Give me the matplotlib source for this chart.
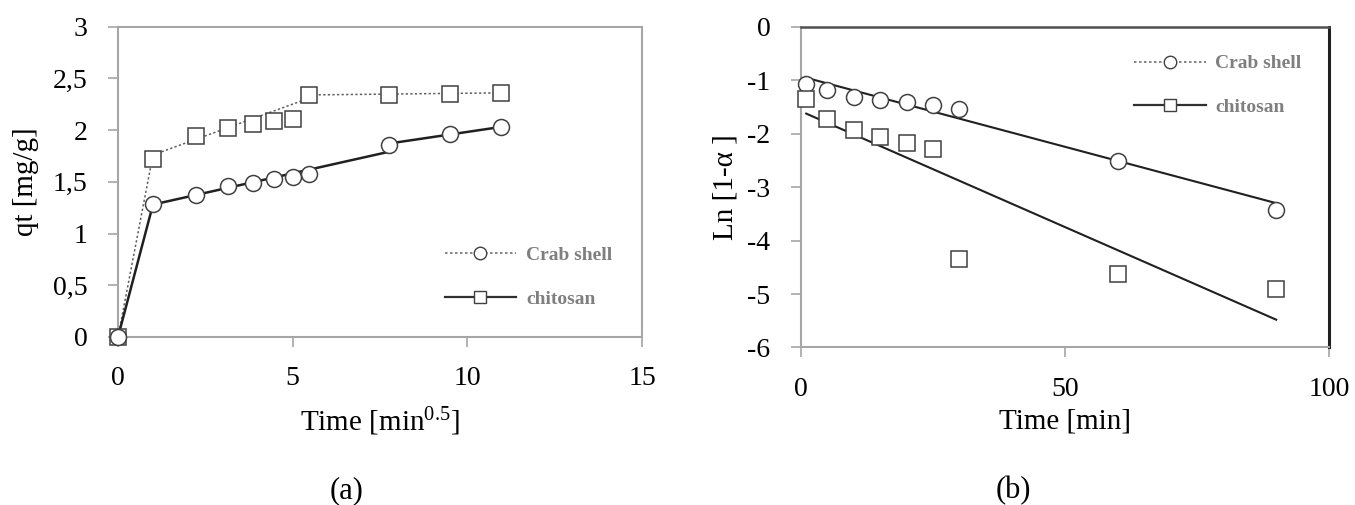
import matplotlib
matplotlib.use("Agg")
import matplotlib.pyplot as plt
from matplotlib.lines import Line2D

plt.rcParams['font.family'] = ['Liberation Serif', 'DejaVu Serif']
plt.rcParams['mathtext.fontset'] = 'custom'
plt.rcParams['mathtext.rm'] = 'Liberation Serif'
plt.rcParams['mathtext.it'] = 'Liberation Serif:italic'
plt.rcParams['axes.unicode_minus'] = False

# (a) intraparticle diffusion, x = sqrt(t)
sqrt_t = [0, 1, 2.24, 3.16, 3.87, 4.47, 5, 5.48, 7.75, 9.49, 10.95]
qt_squares = [0, 1.72, 1.94, 2.02, 2.06, 2.09, 2.11, 2.34, 2.34, 2.35, 2.36]
qt_circles = [0, 1.29, 1.37, 1.46, 1.49, 1.525, 1.545, 1.58, 1.86, 1.96, 2.03]
# fitted segments (x, y)
dot_seg_x = [[0, 1], [1, 5.48], [5.48, 10.95]]
dot_seg_y = [[0, 1.76], [1.76, 2.31], [2.34, 2.36]]
sol_seg_x = [[0, 1], [1, 7.75], [7.75, 10.95]]
sol_seg_y = [[0, 1.28], [1.28, 1.79], [1.87, 2.03]]
a_yticks = [0, 0.5, 1, 1.5, 2, 2.5, 3]
a_yticklabels = ['0', '0,5', '1', '1,5', '2', '2,5', '3']
a_xticks = [0, 5, 10, 15]

# (b) pseudo first order
t_min = [1, 5, 10, 15, 20, 25, 30, 60, 90]
ln_circles = [-1.07, -1.18, -1.31, -1.38, -1.41, -1.46, -1.53, -2.52, -3.42]
ln_squares = [-1.36, -1.72, -1.94, -2.06, -2.18, -2.28, -4.35, -4.63, -4.91]
fit_x = [1, 90]
fit_circles = [-0.955, -3.30]
fit_squares = [-1.625, -5.48]
b_yticks = [0, -1, -2, -3, -4, -5, -6]
b_xticks = [0, 50, 100]

SPINE = '#a6a6a6'
MK = '#404040'
LEG = '#7f7f7f'

fig = plt.figure(figsize=(13.55, 5.05), dpi=100)
ax1 = fig.add_axes([0.0871, 0.3327, 0.3867, 0.6145])
ax2 = fig.add_axes([0.5911, 0.3119, 0.3897, 0.6352])

mk = dict(markersize=11.5, markerfacecolor='white', markeredgecolor=MK,
          markeredgewidth=1.1, linestyle='none', clip_on=False)

# panel a
for xs, ys in zip(dot_seg_x, dot_seg_y):
    ax1.plot(xs, ys, linestyle=(0, (1.5, 1.5)), color='#606060', lw=1.1)
for xs, ys in zip(sol_seg_x, sol_seg_y):
    ax1.plot(xs, ys, '-', color='#202020', lw=1.8)
ax1.plot(sqrt_t, qt_squares, marker='s', zorder=3, **mk)
ax1.plot(sqrt_t, qt_circles, marker='o', zorder=3, **mk)
ax1.set_xlim(0, 15)
ax1.set_ylim(0, 3)
ax1.set_xticks(a_xticks)
ax1.set_yticks(a_yticks)
ax1.set_yticklabels(a_yticklabels)
ax1.set_xlabel('Time [min$^{0.5}$]', fontsize=21, labelpad=10)
ax1.set_ylabel('qt [mg/g]', fontsize=21, labelpad=10)

# panel b
ax2.plot(fit_x, fit_circles, '-', color='#202020', lw=1.5)
ax2.plot(fit_x, fit_squares, '-', color='#202020', lw=1.5)
ax2.plot(t_min, ln_circles, marker='o', zorder=3, **mk)
ax2.plot(t_min, ln_squares, marker='s', zorder=3, **mk)
ax2.set_xlim(0, 100)
ax2.set_ylim(-6, 0)
ax2.set_xticks(b_xticks)
ax2.set_yticks(b_yticks)
ax2.set_xlabel('Time [min]', fontsize=21, labelpad=5)
ax2.set_ylabel('Ln [1-α ]', fontsize=21, labelpad=6)

for ax in (ax1, ax2):
    for s in ax.spines.values():
        s.set_color(SPINE)
        s.set_linewidth(1.5)
    ax.tick_params(direction='out', length=7, width=1.2, color=SPINE,
                   labelsize=20)
    ax.tick_params(axis='x', pad=14)
    ax.tick_params(axis='y', pad=15)
ax2.spines['right'].set_color('#202020')
ax2.spines['right'].set_linewidth(2.2)
ax2.spines['top'].set_color('#505050')
ax2.spines['top'].set_linewidth(1.8)

handles = [
    Line2D([], [], linestyle=(0, (1.5, 1.5)), color='#707070', lw=1.2,
           marker='o', markersize=9, markerfacecolor='white', markeredgecolor=MK),
    Line2D([], [], linestyle='-', color='#303030', lw=1.6,
           marker='s', markersize=9, markerfacecolor='white', markeredgecolor=MK),
]
labels = ['Crab shell', 'chitosan']
for ax, loc in ((ax1, (0.5897, 0.192)), (ax2, (0.597, 0.8167))):
    leg = ax.legend(handles, labels, loc='center left', bbox_to_anchor=loc,
                    frameon=False, handlelength=3.7,
                    labelspacing=1.35, handletextpad=0.5,
                    prop={'size': 14, 'weight': 'bold'})
    for t in leg.get_texts():
        t.set_color(LEG)

fig.text(0.256, 0.028, '(a)', fontsize=22, ha='center', va='center')
fig.text(0.7476, 0.028, '(b)', fontsize=22, ha='center', va='center')

fig.savefig('out.png', dpi=100)
